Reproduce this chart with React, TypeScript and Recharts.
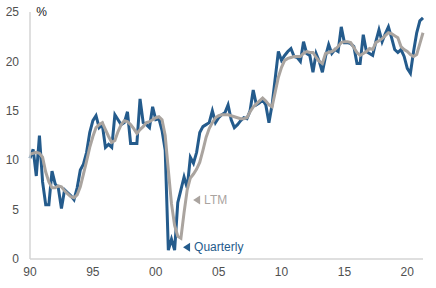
import { LineChart, Line, XAxis, YAxis, ReferenceDot } from "recharts";

// quarterly return series, 1990Q1 .. 2021Q2
const quarterly = [
  10.2, 11.1, 8.4, 12.5, 7.8, 5.5, 5.5, 8.9, 7.6, 7.2,
  5.1, 7.0, 6.7, 6.4, 6.0, 7.2, 9.0, 9.6, 10.8, 12.8,
  14.0, 14.5, 13.3, 13.6, 11.3, 11.6, 11.3, 14.6, 14.1, 13.6,
  13.8, 14.9, 11.7, 11.7, 11.7, 16.2, 13.8, 13.6, 13.3, 15.4,
  14.1, 14.2, 13.0, 11.0, 0.9, 2.0, 0.9, 5.7, 7.0, 8.3,
  7.2, 10.3, 9.7, 10.8, 12.8, 13.4, 13.6, 13.8, 15.0, 13.8,
  14.3, 14.6, 14.8, 15.6, 14.1, 13.3, 13.6, 14.0, 14.3, 14.2,
  15.0, 17.1, 15.6, 15.8, 16.1, 15.6, 13.8, 15.6, 18.3, 21.0,
  20.1, 20.6, 21.0, 21.3, 20.5, 20.4, 20.0, 22.0, 20.8, 20.6,
  18.9, 20.8, 20.0, 18.9, 20.5, 21.7, 20.8, 21.2, 21.0, 23.5,
  21.9, 21.9, 21.8, 21.5, 19.8, 19.8, 22.7, 21.0, 20.8, 20.6,
  22.0, 23.2, 22.0, 22.8, 23.5, 22.4, 21.2, 20.9, 21.2, 20.5,
  19.3, 18.8, 21.0, 22.9, 24.1, 24.4,
];

// last twelve months
const ltm = [
  10.6, 10.7, 10.8, 10.7, 10.3, 8.8, 7.8, 7.2, 7.2, 7.4,
  7.3, 6.9, 6.6, 6.3, 6.2, 6.5, 7.3, 8.6, 9.9, 11.3,
  12.4, 13.3, 13.6, 13.8, 13.1, 12.4, 11.8, 12.0, 12.9, 13.6,
  14.0, 13.9, 13.6, 13.2, 12.7, 13.1, 13.4, 13.8, 13.9, 14.1,
  14.3, 14.4, 14.1, 12.5, 9.0, 5.6, 3.4, 2.3, 2.1, 4.7,
  7.0, 8.2, 8.6, 9.1, 9.8, 11.0, 12.3, 13.2, 13.8, 14.3,
  14.5, 14.6, 14.6, 14.6, 14.5, 14.4, 14.3, 14.2, 14.2, 14.3,
  14.9, 15.4, 15.7, 16.0, 16.3, 16.0, 15.6, 15.4, 16.9, 18.4,
  19.4, 20.1, 20.3, 20.4, 20.5, 20.5, 20.5, 20.8, 21.0, 20.9,
  20.9, 20.4, 20.0, 19.8, 20.8, 20.9, 21.0, 21.2, 21.5, 21.9,
  22.0, 22.0, 21.9, 21.4, 20.9, 20.6, 20.8, 21.0, 21.3, 21.2,
  21.9, 22.1, 22.3, 22.6, 22.9, 22.8, 22.6, 22.4, 21.5, 21.2,
  21.0, 20.7, 20.5, 20.7, 21.8, 22.9,
];

const startYear = 1990;
const xTicks = [1990, 1995, 2000, 2005, 2010, 2015, 2020];
const yTicks = [0, 5, 10, 15, 20, 25];

const data = quarterly.map((q, i) => ({
  t: startYear + i / 4,
  quarterly: q,
  ltm: ltm[i],
}));

const BLUE = "#245b8c";
const GRAY = "#aaa49f";
const FONT = "'Liberation Sans', Arial, sans-serif";

function Marker(props: any) {
  const { cx, cy, color, text } = props;
  return (
    <g>
      <polygon points={`${cx},${cy} ${cx + 7},${cy - 4.5} ${cx + 7},${cy + 4.5}`} fill={color} />
      <text x={cx + 11} y={cy + 4} fill={color} fontSize={12} fontFamily={FONT}>
        {text}
      </text>
    </g>
  );
}

export default function App() {
  return (
    <div style={{ position: "fixed", left: 0, top: 0, background: "#fff" }}>
      <LineChart width={436} height={288} data={data} margin={{ top: 12, right: 13, left: 0, bottom: 0 }}>
        <XAxis
          dataKey="t"
          type="number"
          domain={[1990, 2021.25]}
          ticks={xTicks}
          tickFormatter={(v: number) => String(v % 100).padStart(2, "0")}
          tickLine={false}
          axisLine={{ stroke: "#d4d4d4", strokeWidth: 1.5 }}
          height={29}
          tick={{ fill: "#505050", fontSize: 12, fontFamily: FONT }}
        />
        <YAxis
          type="number"
          domain={[0, 25]}
          ticks={yTicks}
          tickLine={false}
          axisLine={{ stroke: "#d4d4d4", strokeWidth: 1.5 }}
          width={30}
          tickMargin={5}
          tick={{ fill: "#505050", fontSize: 12, fontFamily: FONT }}
        />
        <Line
          type="linear"
          dataKey="quarterly"
          stroke={BLUE}
          strokeWidth={3}
          dot={false}
          isAnimationActive={false}
        />
        <Line
          type="linear"
          dataKey="ltm"
          stroke={GRAY}
          strokeWidth={3}
          dot={false}
          isAnimationActive={false}
        />
        <ReferenceDot
          x={1990.5}
          y={25}
          r={0}
          shape={(p: any) => (
            <text x={p.cx} y={p.cy + 4} fill="#222" fontSize={12} fontFamily={FONT}>
              %
            </text>
          )}
        />
        <ReferenceDot
          x={2002.97}
          y={5.97}
          r={0}
          shape={(p: any) => <Marker {...p} color={GRAY} text="LTM" />}
        />
        <ReferenceDot
          x={2002.17}
          y={1.2}
          r={0}
          shape={(p: any) => <Marker {...p} color={BLUE} text="Quarterly" />}
        />
      </LineChart>
    </div>
  );
}
